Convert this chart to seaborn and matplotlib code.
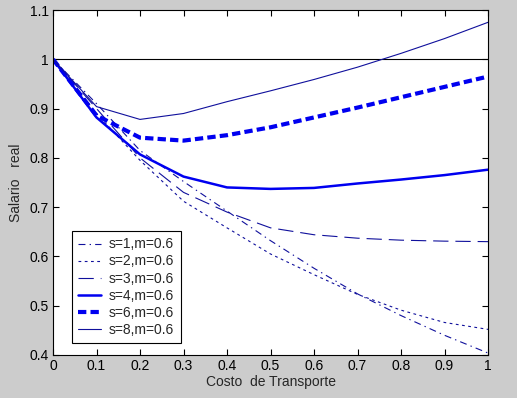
import matplotlib
matplotlib.use("Agg")
import matplotlib.pyplot as plt
import seaborn as sns
import numpy as np
import pandas as pd

# ---- data ----
costo = [0.0, 0.1, 0.2, 0.3, 0.4, 0.5, 0.6, 0.7, 0.8, 0.9, 1.0]
s1 = [1.0, 0.910, 0.815, 0.752, 0.692, 0.632, 0.576, 0.524, 0.480, 0.440, 0.404]
s2 = [1.0, 0.890, 0.795, 0.712, 0.658, 0.605, 0.563, 0.523, 0.491, 0.466, 0.452]
s3 = [1.0, 0.900, 0.800, 0.730, 0.690, 0.658, 0.644, 0.637, 0.633, 0.631, 0.630]
s4 = [1.0, 0.882, 0.807, 0.762, 0.740, 0.737, 0.739, 0.748, 0.756, 0.765, 0.776]
s6 = [1.0, 0.886, 0.841, 0.835, 0.846, 0.862, 0.882, 0.902, 0.923, 0.944, 0.965]
s8 = [1.0, 0.904, 0.878, 0.890, 0.914, 0.936, 0.959, 0.984, 1.012, 1.042, 1.075]
labels = ["s=1,m=0.6", "s=2,m=0.6", "s=3,m=0.6", "s=4,m=0.6", "s=6,m=0.6", "s=8,m=0.6"]
xticks = [0, 0.1, 0.2, 0.3, 0.4, 0.5, 0.6, 0.7, 0.8, 0.9, 1.0]
xticklabels = ["0", "0.1", "0.2", "0.3", "0.4", "0.5", "0.6", "0.7", "0.8", "0.9", "1"]
yticks = [0.4, 0.5, 0.6, 0.7, 0.8, 0.9, 1.0, 1.1]
yticklabels = ["0.4", "0.5", "0.6", "0.7", "0.8", "0.9", "1", "1.1"]

series = [s1, s2, s3, s4, s6, s8]

sns.set_style("ticks")
plt.rcParams["font.family"] = ["Liberation Sans", "DejaVu Sans"]
plt.rcParams["lines.scale_dashes"] = False

thin = "#10109c"
thick = "#0000f0"
styles = [
    dict(color=thin, linewidth=0.8, linestyle=(0, (5, 3, 1, 3))),
    dict(color=thin, linewidth=0.8, linestyle=(0, (2, 2.5))),
    dict(color=thin, linewidth=0.8, linestyle=(0, (11, 5))),
    dict(color=thick, linewidth=1.8, linestyle="-"),
    dict(color=thick, linewidth=3.0, linestyle=(0, (6, 3))),
    dict(color=thin, linewidth=0.8, linestyle="-"),
]

fig = plt.figure(figsize=(5.17, 3.98), dpi=100, facecolor="#cccccc")
ax = fig.add_axes([53/517, 43/398, 435/517, 345/398])
ax.set_facecolor("white")

for vals, lab, st in zip(series, labels, styles):
    df = pd.DataFrame({"x": costo, "y": vals})
    sns.lineplot(data=df, x="x", y="y", ax=ax, label=lab, **st)

ax.axhline(1.0, color="black", linewidth=0.8, zorder=1)

ax.set_xlim(0, 1)
ax.set_ylim(0.4, 1.1)
ax.set_xticks(xticks)
ax.set_xticklabels(xticklabels)
ax.set_yticks(yticks)
ax.set_yticklabels(yticklabels)
ax.tick_params(direction="in", length=4, width=0.8, top=True, right=True,
               labelsize=10, colors="black", pad=3)
for sp in ax.spines.values():
    sp.set_visible(True)
    sp.set_color("black")
    sp.set_linewidth(0.8)

ax.set_xlabel("Costo  de Transporte", fontsize=10, labelpad=1)
ax.set_ylabel("Salario   real", fontsize=10, labelpad=5)

leg = ax.legend(loc="lower left", bbox_to_anchor=(0.044, 0.035), fontsize=10,
                frameon=True, fancybox=False, framealpha=1, edgecolor="black",
                handlelength=1.6, handletextpad=0.6, labelspacing=0.22,
                borderpad=0.45, borderaxespad=0)
leg.get_frame().set_linewidth(0.8)

fig.savefig("out.png", dpi=100, facecolor=fig.get_facecolor())
